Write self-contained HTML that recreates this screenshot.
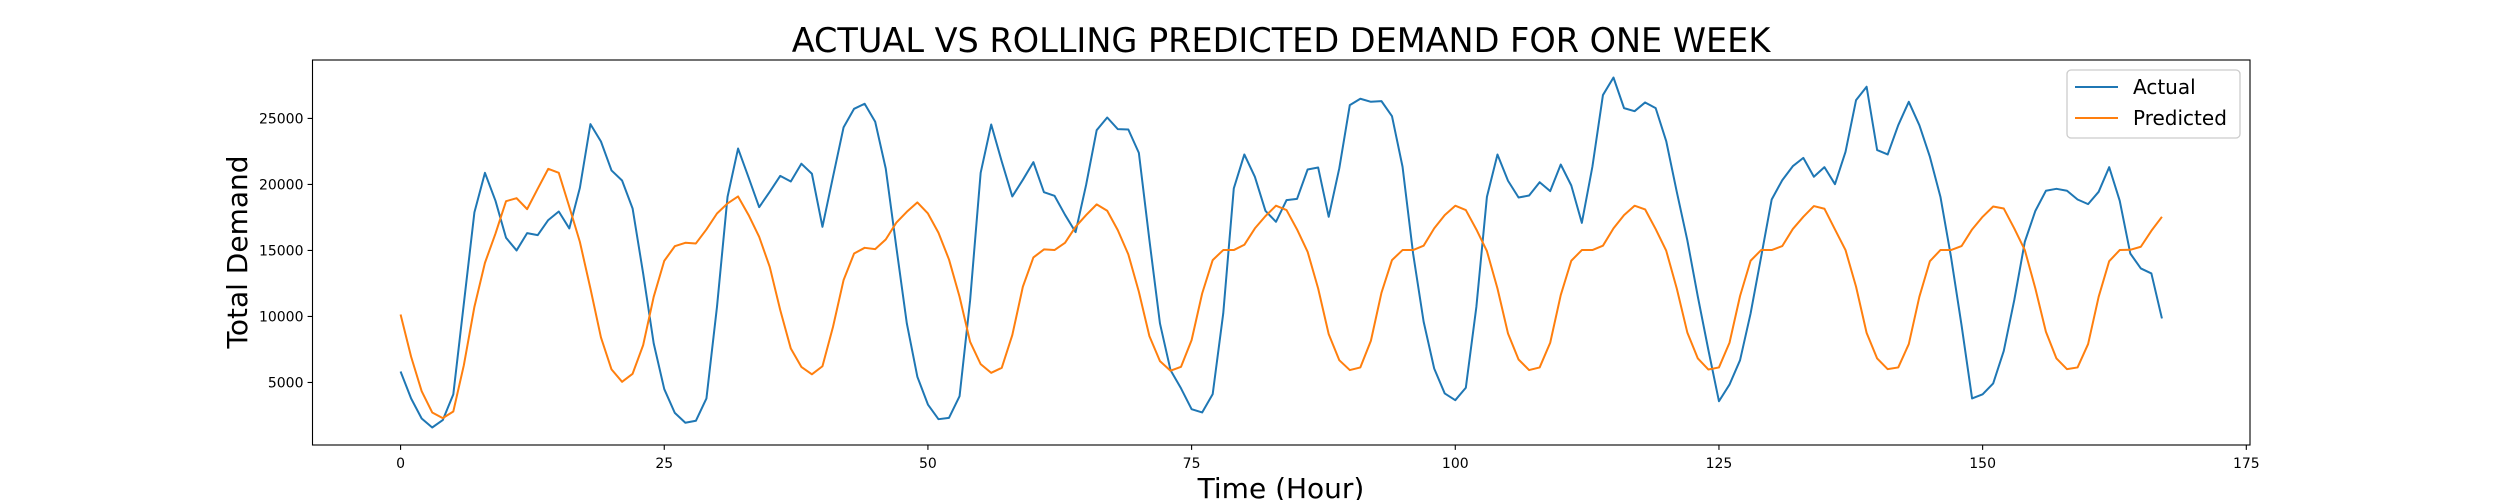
<!DOCTYPE html>
<html><head><meta charset="utf-8"><style>
html,body{margin:0;padding:0;background:#fff;}
svg{display:block;font-family:"DejaVu Sans","Liberation Sans",sans-serif;}
</style></head><body>
<svg id="chart" width="2500" height="500" viewBox="0 0 2500 500" xmlns="http://www.w3.org/2000/svg">
<rect x="0" y="0" width="2500" height="500" fill="#fff"/>
<text x="1281" y="52" font-size="33.5" text-anchor="middle" fill="#000">ACTUAL VS ROLLING PREDICTED DEMAND FOR ONE WEEK</text>
<g id="marks"></g>
<g id="axes"></g>
<text x="1281" y="498" font-size="28" text-anchor="middle" fill="#000">Time (Hour)</text>
<text x="0" y="0" font-size="28" text-anchor="middle" fill="#000" transform="translate(247,252) rotate(-90)">Total Demand</text>
<g>
<rect x="2067" y="70" width="173" height="68" rx="4" fill="#fff" fill-opacity="0.8" stroke="#ccc" stroke-width="1.3"/>
<line x1="2075" y1="87" x2="2118" y2="87" stroke="#1f77b4" stroke-width="2"/>
<text x="2133" y="94" font-size="20" fill="#000">Actual</text>
<line x1="2075" y1="118" x2="2118" y2="118" stroke="#ff7f0e" stroke-width="2"/>
<text x="2133" y="125" font-size="20" fill="#000">Predicted</text>
</g>
</svg>
<script>
const actual = [5833,3788,2270,1590,2150,4100,10980,17880,20880,18760,15960,15000,16310,16160,17300,17950,16670,19740,24570,23250,21060,20300,18180,13260,7960,4500,2700,1950,2100,3790,10730,19060,22720,20520,18280,19440,20650,20220,21570,20810,16790,20580,24320,25730,26110,24750,21210,15280,9470,5430,3330,2220,2320,3960,11230,20880,24540,21740,19090,20350,21690,19410,19140,17700,16390,19970,24110,25070,24190,24160,22390,15780,9470,5940,4550,2980,2730,4120,10230,19700,22270,20580,18000,17170,18810,18910,21130,21280,17550,21210,26010,26490,26260,26310,25170,21340,14770,9600,6060,4170,3660,4600,10730,19060,22270,20280,19010,19160,20170,19490,21510,19920,17090,21340,26770,28100,25780,25550,26210,25780,23280,19440,15780,11490,7450,3580,4840,6690,10230,14520,18860,20320,21380,22010,20580,21310,20020,22470,26390,27400,22600,22270,24490,26260,24490,22090,19060,14520,9340,3790,4100,4930,7380,11240,15660,18000,19520,19670,19520,18860,18510,19440,21310,18760,14770,13640,13260,9850];
const predicted = [10150,6950,4340,2730,2300,2800,6310,10730,14060,16280,18730,18960,18130,19670,21180,20880,18300,15650,12120,8410,5990,5050,5660,7830,11490,14210,15320,15580,15530,16590,17800,18560,19090,17680,16030,13760,10480,7570,6180,5620,6230,9210,12750,14770,15200,15100,15830,17100,17930,18640,17800,16340,14310,11490,8080,6390,5730,6110,8590,12250,14470,15080,15030,15580,16790,17680,18490,18010,16540,14700,11870,8510,6620,5890,6190,8210,11740,14270,15030,15030,15430,16670,17600,18390,18060,16590,14900,12120,8660,6690,5940,6140,8160,11790,14270,15030,15030,15360,16670,17680,18390,18060,16590,14950,12120,8710,6740,5940,6140,8010,11620,14220,15030,15030,15360,16670,17680,18390,18110,16620,14980,12120,8790,6820,5980,6140,8010,11550,14220,15030,15030,15330,16620,17550,18360,18160,16590,15030,12250,8760,6820,6010,6140,7910,11490,14190,15030,15030,15330,16590,17550,18330,18180,16670,15030,12120,8840,6820,6010,6140,7910,11490,14190,15030,15050,15280,16490,17550];
const xTicks = [0,25,50,75,100,125,150,175];
const yTicks = [5000,10000,15000,20000,25000];

const L=312.5,R=2250,T=60,B=445;
const n=actual.length;
const allV=actual.concat(predicted);
const dmin=Math.min(...allV),dmax=Math.max(...allV);
const ymin=dmin-(dmax-dmin)*0.05,ymax=dmax+(dmax-dmin)*0.05;
const xmin=-(n-1)*0.05,xmax=(n-1)*1.05;
function xs(v){return L+(v-xmin)/(xmax-xmin)*(R-L);}
function ys(v){return B-(v-ymin)/(ymax-ymin)*(B-T);}
const NS="http://www.w3.org/2000/svg";
const marks=document.getElementById('marks');
const axes=document.getElementById('axes');
function line(data,color,name){
  const p=document.createElementNS(NS,'polyline');
  p.setAttribute('points',data.map((v,i)=>xs(i).toFixed(2)+','+ys(v).toFixed(2)).join(' '));
  p.setAttribute('fill','none');p.setAttribute('stroke',color);p.setAttribute('stroke-width','2');
  p.setAttribute('stroke-linejoin','round');
  
  
  marks.appendChild(p);
}
line(actual,'#1f77b4','actual-line');
line(predicted,'#ff7f0e','predicted-line');
const frame=document.createElementNS(NS,'rect');
frame.setAttribute('x',L);frame.setAttribute('y',T);frame.setAttribute('width',R-L);frame.setAttribute('height',B-T);
frame.setAttribute('fill','none');frame.setAttribute('stroke','#000');frame.setAttribute('stroke-width','1.1');


axes.appendChild(frame);
xTicks.forEach(t=>{
  const x=xs(t);
  const tk=document.createElementNS(NS,'line');
  tk.setAttribute('x1',x);tk.setAttribute('x2',x);tk.setAttribute('y1',B);tk.setAttribute('y2',B+4.9);
  tk.setAttribute('stroke','#000');tk.setAttribute('stroke-width','1.1');
  
  
  axes.appendChild(tk);
  const tx=document.createElementNS(NS,'text');
  tx.setAttribute('x',x);tx.setAttribute('y',B+23);tx.setAttribute('font-size','14');tx.setAttribute('text-anchor','middle');
  tx.textContent=t;
  
  
  axes.appendChild(tx);
});
yTicks.forEach(t=>{
  const y=ys(t);
  const tk=document.createElementNS(NS,'line');
  tk.setAttribute('x1',L-4.9);tk.setAttribute('x2',L);tk.setAttribute('y1',y);tk.setAttribute('y2',y);
  tk.setAttribute('stroke','#000');tk.setAttribute('stroke-width','1.1');
  
  
  axes.appendChild(tk);
  const tx=document.createElementNS(NS,'text');
  tx.setAttribute('x',L-9);tx.setAttribute('y',y+5);tx.setAttribute('font-size','14');tx.setAttribute('text-anchor','end');
  tx.textContent=t;
  
  
  axes.appendChild(tx);
});
</script>
</body></html>
